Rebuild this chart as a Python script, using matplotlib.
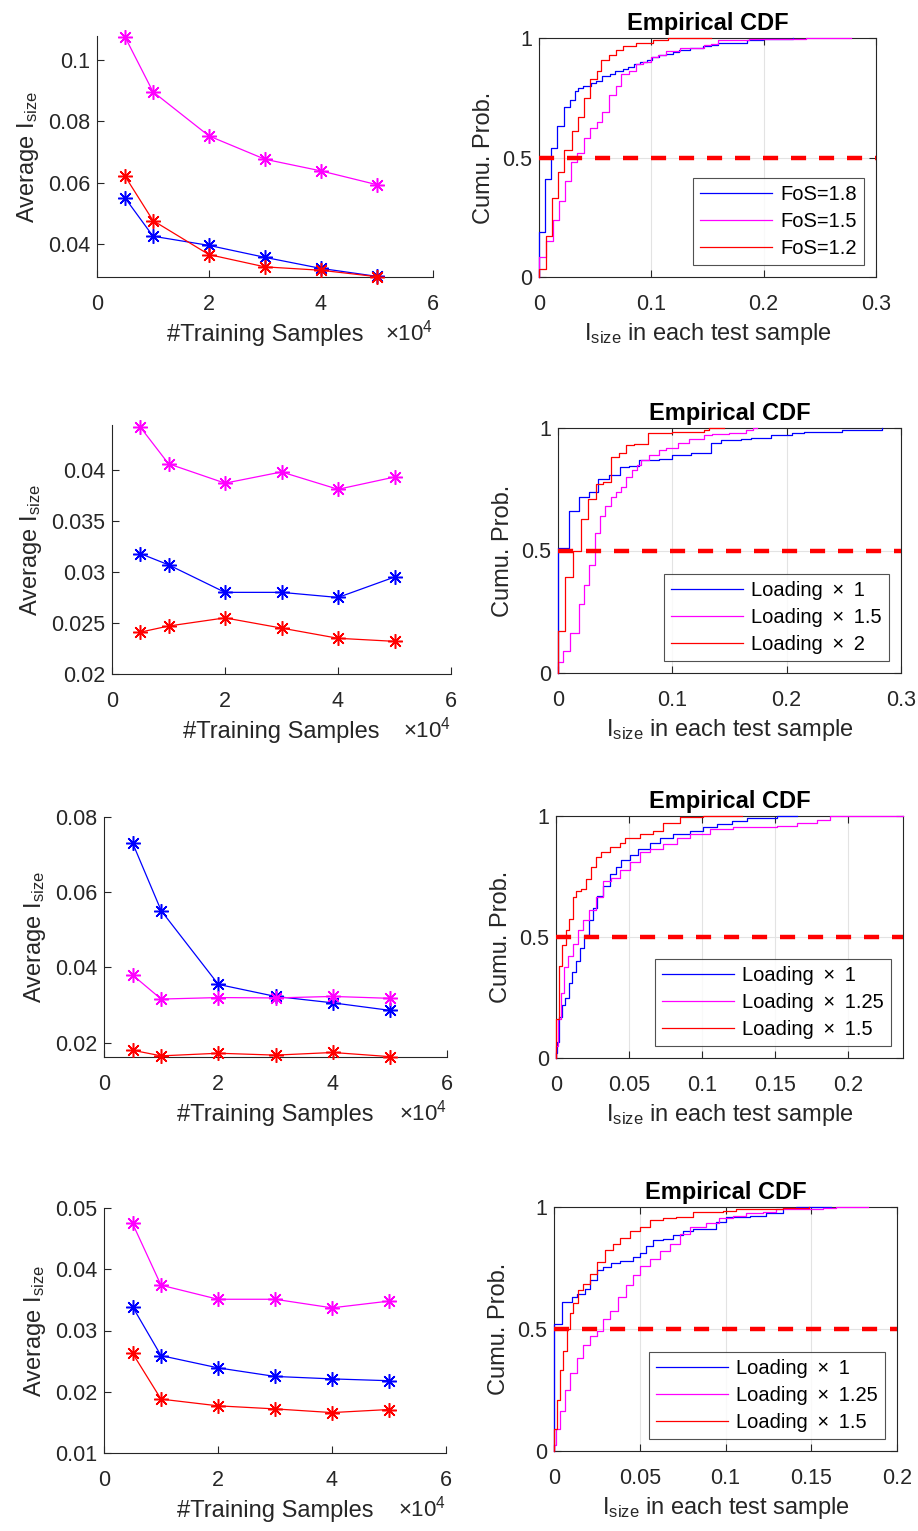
import numpy as np
import matplotlib
matplotlib.use("Agg")
import matplotlib.pyplot as plt

plt.rcParams['font.family'] = ['Liberation Sans', 'DejaVu Sans']
plt.rcParams['mathtext.fontset'] = 'custom'
plt.rcParams['mathtext.rm'] = 'Liberation Sans'
plt.rcParams['mathtext.it'] = 'Liberation Sans:italic'

BLUE, MAG, RED = '#0000ff', '#ff00ff', '#ff0000'
DARK = '#262626'

# training samples (x 10^4)
n_train = [0.5, 1, 2, 3, 4, 5]

# average I_size, row by row
avg1_blue = [0.0550, 0.0425, 0.0395, 0.0356, 0.0320, 0.0294]
avg1_mag = [0.1075, 0.0896, 0.0752, 0.0676, 0.0638, 0.0593]
avg1_red = [0.0621, 0.0476, 0.0365, 0.0325, 0.0314, 0.0293]

avg2_blue = [0.0318, 0.0307, 0.0280, 0.0280, 0.0275, 0.0295]
avg2_mag = [0.0442, 0.0406, 0.0387, 0.0398, 0.0381, 0.0393]
avg2_red = [0.0241, 0.0247, 0.0255, 0.0245, 0.0235, 0.0232]

avg3_blue = [0.0731, 0.0551, 0.0355, 0.0323, 0.0306, 0.0286]
avg3_mag = [0.0380, 0.0316, 0.0320, 0.0319, 0.0323, 0.0318]
avg3_red = [0.0180, 0.0165, 0.0172, 0.0167, 0.0174, 0.0163]

avg4_blue = [0.0339, 0.0259, 0.0239, 0.0225, 0.0221, 0.0218]
avg4_mag = [0.0475, 0.0374, 0.0351, 0.0351, 0.0337, 0.0348]
avg4_red = [0.0263, 0.0188, 0.0177, 0.0172, 0.0166, 0.0171]

# empirical CDFs: jump positions (x) and levels after jump (p); last x is end of line
cdf1_fos18_x = [0, 0.005, 0.011, 0.016, 0.022, 0.028, 0.032, 0.035, 0.039, 0.046, 0.051, 0.056, 0.063, 0.068,
                0.075, 0.079, 0.085, 0.090, 0.096, 0.101, 0.107, 0.113, 0.119, 0.125, 0.134, 0.146, 0.153, 0.159,
                0.185, 0.199, 0.226]
cdf1_fos18_p = [0.19, 0.41, 0.54, 0.63, 0.71, 0.74, 0.78, 0.79, 0.80, 0.81, 0.82, 0.84, 0.85, 0.86, 0.87, 0.88,
                0.89, 0.90, 0.91, 0.92, 0.93, 0.935, 0.94, 0.95, 0.96, 0.965, 0.97, 0.98, 0.99, 0.995, 1.0]
cdf1_fos15_x = [0, 0.0062, 0.0121, 0.018, 0.0231, 0.0281, 0.034, 0.040, 0.0453, 0.0512, 0.0565, 0.0624, 0.0683,
                0.0734, 0.0802, 0.0861, 0.0926, 0.100, 0.1059, 0.1133, 0.1251, 0.1473, 0.1533, 0.1592, 0.1754,
                0.1873, 0.2376, 0.2775]
cdf1_fos15_p = [0.083, 0.15, 0.24, 0.32, 0.40, 0.48, 0.52, 0.58, 0.625, 0.65, 0.69, 0.76, 0.80, 0.85, 0.86, 0.89,
                0.90, 0.92, 0.93, 0.945, 0.96, 0.97, 0.975, 0.99, 0.993, 0.996, 1.0, 1.0]
cdf1_fos12_x = [0, 0.0062, 0.0112, 0.0172, 0.0225, 0.029, 0.035, 0.040, 0.0453, 0.0512, 0.0556, 0.0624, 0.0683,
                0.0749, 0.0861, 0.1015, 0.1148, 0.153]
cdf1_fos12_p = [0.035, 0.17, 0.33, 0.44, 0.53, 0.61, 0.67, 0.75, 0.83, 0.86, 0.91, 0.93, 0.95, 0.965, 0.98, 0.99,
                1.0, 1.0]

cdf2_l1_x = [0, 0.0096, 0.0184, 0.0271, 0.0353, 0.0446, 0.0539, 0.0621, 0.0708, 0.0883, 0.100, 0.116, 0.1335,
             0.1423, 0.1598, 0.1685, 0.186, 0.205, 0.2152, 0.2487, 0.2837]
cdf2_l1_p = [0.51, 0.66, 0.72, 0.74, 0.79, 0.81, 0.84, 0.845, 0.87, 0.875, 0.89, 0.90, 0.94, 0.95, 0.955, 0.96,
             0.97, 0.98, 0.985, 0.99, 1.0]
cdf2_l15_x = [0, 0.0044, 0.0102, 0.0184, 0.0227, 0.0271, 0.0321, 0.0364, 0.0411, 0.0461, 0.0504, 0.0548, 0.0592,
              0.0644, 0.0694, 0.0723, 0.0796, 0.0883, 0.0942, 0.1052, 0.1146, 0.1277, 0.135, 0.1496, 0.1641,
              0.1706, 0.1743]
cdf2_l15_p = [0.045, 0.09, 0.165, 0.28, 0.36, 0.44, 0.57, 0.64, 0.68, 0.72, 0.74, 0.76, 0.80, 0.83, 0.85, 0.87,
              0.89, 0.91, 0.92, 0.94, 0.955, 0.97, 0.975, 0.98, 0.99, 1.0, 1.0]
cdf2_l2_x = [0, 0.0061, 0.0131, 0.0198, 0.0265, 0.0329, 0.0394, 0.0461, 0.0534, 0.0598, 0.0665, 0.079, 0.100,
             0.1277, 0.132, 0.1452]
cdf2_l2_p = [0.17, 0.39, 0.50, 0.63, 0.71, 0.77, 0.78, 0.88, 0.90, 0.93, 0.935, 0.98, 0.985, 0.99, 1.0, 1.0]

cdf3_l1_x = [0, 0.0005, 0.0023, 0.0041, 0.0064, 0.0087, 0.011, 0.0138, 0.0165, 0.0195, 0.0225, 0.0252, 0.028,
             0.0321, 0.0367, 0.0413, 0.0447, 0.0505, 0.0562, 0.0642, 0.0711, 0.0803, 0.0917, 0.1009, 0.1101,
             0.1204, 0.1307, 0.1514, 0.1651]
cdf3_l1_p = [0.02, 0.065, 0.17, 0.22, 0.25, 0.31, 0.355, 0.40, 0.455, 0.51, 0.57, 0.62, 0.67, 0.71, 0.76, 0.79,
             0.82, 0.84, 0.865, 0.89, 0.91, 0.925, 0.94, 0.955, 0.965, 0.98, 0.99, 1.0, 1.0]
cdf3_l125_x = [0, 0.0011, 0.0034, 0.0057, 0.008, 0.0115, 0.0149, 0.0183, 0.0229, 0.0275, 0.0321, 0.0378, 0.0436,
               0.0505, 0.0573, 0.0642, 0.0734, 0.0826, 0.0917, 0.1055, 0.1216, 0.1514, 0.1651, 0.1789, 0.1881,
               0.2378]
cdf3_l125_p = [0.05, 0.16, 0.27, 0.375, 0.42, 0.47, 0.53, 0.57, 0.61, 0.665, 0.73, 0.745, 0.775, 0.81, 0.85,
               0.865, 0.885, 0.91, 0.925, 0.945, 0.955, 0.96, 0.97, 0.985, 1.0, 1.0]
cdf3_l15_x = [0, 0.0023, 0.0041, 0.0069, 0.0092, 0.0115, 0.0138, 0.0172, 0.0206, 0.0241, 0.0275, 0.031, 0.0367,
              0.0436, 0.047, 0.0573, 0.0665, 0.0734, 0.0849, 0.1009, 0.1273]
cdf3_l15_p = [0.16, 0.38, 0.465, 0.53, 0.575, 0.665, 0.69, 0.70, 0.74, 0.79, 0.83, 0.85, 0.87, 0.89, 0.91, 0.925,
              0.94, 0.97, 0.995, 1.0, 1.0]

cdf4_l1_x = [0, 0.0045, 0.0103, 0.0132, 0.018, 0.0209, 0.0248, 0.0287, 0.0335, 0.0384, 0.0461, 0.050, 0.0539,
             0.0578, 0.0636, 0.0694, 0.0752, 0.081, 0.0946, 0.1004, 0.114, 0.1236, 0.1333, 0.1411, 0.1614]
cdf4_l1_p = [0.52, 0.61, 0.63, 0.645, 0.665, 0.70, 0.74, 0.755, 0.77, 0.78, 0.795, 0.81, 0.84, 0.865, 0.87, 0.885,
             0.90, 0.91, 0.94, 0.96, 0.965, 0.975, 0.995, 1.0, 1.0]
cdf4_l125_x = [0, 0.0012, 0.0035, 0.0064, 0.0093, 0.0132, 0.0171, 0.0209, 0.0248, 0.0287, 0.0326, 0.0374, 0.0422,
               0.0461, 0.050, 0.0558, 0.0616, 0.0674, 0.0733, 0.0791, 0.0888, 0.0965, 0.1043, 0.112, 0.1217,
               0.1295, 0.1566, 0.1643, 0.1833]
cdf4_l125_p = [0.025, 0.09, 0.165, 0.25, 0.32, 0.38, 0.435, 0.47, 0.49, 0.54, 0.575, 0.63, 0.68, 0.72, 0.76,
               0.785, 0.82, 0.85, 0.89, 0.92, 0.935, 0.955, 0.965, 0.975, 0.98, 0.99, 0.995, 1.0, 1.0]
cdf4_l15_x = [0, 0.0019, 0.0035, 0.0054, 0.0074, 0.0093, 0.0112, 0.0141, 0.0171, 0.0209, 0.0248, 0.0297, 0.0345,
              0.0384, 0.0442, 0.050, 0.0558, 0.0636, 0.0713, 0.081, 0.0984, 0.1062, 0.1333, 0.1488]
cdf4_l15_p = [0.09, 0.21, 0.33, 0.41, 0.50, 0.565, 0.605, 0.66, 0.685, 0.725, 0.775, 0.825, 0.85, 0.875, 0.90,
              0.92, 0.945, 0.955, 0.96, 0.98, 0.985, 0.99, 0.995, 1.0]

legend1 = ['FoS=1.8', 'FoS=1.5', 'FoS=1.2']
legend2 = ['Loading \u2009\u00d7\u2009 1', 'Loading \u2009\u00d7\u2009 1.5', 'Loading \u2009\u00d7\u2009 2']
legend3 = ['Loading \u2009\u00d7\u2009 1', 'Loading \u2009\u00d7\u2009 1.25', 'Loading \u2009\u00d7\u2009 1.5']

W, H = 918, 1531
fig = plt.figure(figsize=(W / 100, H / 100), dpi=100)


def box(l, r, t, b):
    return [l / W, 1 - b / H, (r - l) / W, (b - t) / H]


TICK_FS = 15.5
LAB_FS = 17
LEG_FS = 14.5


def style_ticks(ax):
    ax.tick_params(direction='in', length=5, width=0.8, colors=DARK, labelsize=TICK_FS)
    ax.tick_params(axis='x', pad=12.5)
    ax.tick_params(axis='y', pad=5)


def avg_panel(pos, series, ylim, yticks, ylabels):
    ax = fig.add_axes(box(*pos))
    for y, c in zip(series, [BLUE, MAG, RED]):
        ax.plot(n_train, y, color=c, lw=0.9, marker=(8, 2, 0), ms=10.5, mew=1.1, clip_on=False, zorder=3)
    ax.set_xlim(0, 6)
    ax.set_ylim(*ylim)
    ax.set_xticks([0, 2, 4, 6])
    ax.set_yticks(yticks)
    ax.set_yticklabels(ylabels)
    for s in ['top', 'right']:
        ax.spines[s].set_visible(False)
    for s in ['left', 'bottom']:
        ax.spines[s].set_color(DARK)
        ax.spines[s].set_linewidth(0.8)
    style_ticks(ax)
    ax.set_xlabel('#Training Samples', fontsize=LAB_FS, color=DARK, labelpad=6)
    ax.set_ylabel(r'Average I$_{\mathregular{size}}$', fontsize=LAB_FS, color=DARK, labelpad=5)
    ax.annotate('\u00d710$^{\\mathregular{4}}$', xy=(1, 0), xycoords='axes fraction', xytext=(0, -46),
                textcoords='offset points', ha='right', va='baseline', fontsize=16, color=DARK)
    return ax


def cdf_panel(pos, series, labels, xlim, xticks, xlabels):
    ax = fig.add_axes(box(*pos))
    lines = []
    for (x, p), c in zip(series, [BLUE, MAG, RED]):
        xs = [x[0]] + list(x)
        ps = [0] + list(p)
        ln, = ax.step(xs, ps, where='post', color=c, lw=0.9, zorder=3, clip_on=False)
        lines.append(ln)
    ax.plot(xlim, [0.5, 0.5], color=RED, lw=3.2, dashes=(3.4, 2.9), zorder=3)
    ax.set_xlim(*xlim)
    ax.set_ylim(0, 1)
    ax.set_xticks(xticks)
    ax.set_xticklabels(xlabels)
    ax.set_yticks([0, 0.5, 1])
    ax.set_yticklabels(['0', '0.5', '1'])
    ax.grid(True, color='#e3e3e3', lw=0.8)
    ax.set_axisbelow(True)
    for s in ax.spines.values():
        s.set_color(DARK)
        s.set_linewidth(0.8)
    style_ticks(ax)
    ax.tick_params(top=True, right=True)
    ax.set_title('Empirical CDF', fontsize=LAB_FS, fontweight='bold', pad=6)
    ax.set_xlabel(r'I$_{\mathregular{size}}$ in each test sample', fontsize=LAB_FS, color=DARK, labelpad=4)
    ax.set_ylabel('Cumu. Prob.', fontsize=LAB_FS, color=DARK, labelpad=5)
    leg = ax.legend(lines, labels, loc='lower right', fontsize=LEG_FS, frameon=True, fancybox=False,
                    handlelength=3.6, handletextpad=0.4, labelspacing=0.4, borderpad=0.35,
                    borderaxespad=0.6)
    leg.get_frame().set_edgecolor(DARK)
    leg.get_frame().set_linewidth(0.8)
    leg.set_zorder(5)
    return ax


avg_panel((97, 433, 36, 277), [avg1_blue, avg1_mag, avg1_red], (0.0292, 0.1078),
          [0.04, 0.06, 0.08, 0.1], ['0.04', '0.06', '0.08', '0.1'])
avg_panel((112, 451, 425, 674), [avg2_blue, avg2_mag, avg2_red], (0.02, 0.0444),
          [0.02, 0.025, 0.03, 0.035, 0.04], ['0.02', '0.025', '0.03', '0.035', '0.04'])
avg_panel((104, 447, 817, 1057), [avg3_blue, avg3_mag, avg3_red], (0.0162, 0.08),
          [0.02, 0.04, 0.06, 0.08], ['0.02', '0.04', '0.06', '0.08'])
avg_panel((104, 446, 1208, 1453), [avg4_blue, avg4_mag, avg4_red], (0.01, 0.05),
          [0.01, 0.02, 0.03, 0.04, 0.05], ['0.01', '0.02', '0.03', '0.04', '0.05'])

cdf_panel((539, 876, 38, 277),
          [(cdf1_fos18_x, cdf1_fos18_p), (cdf1_fos15_x, cdf1_fos15_p), (cdf1_fos12_x, cdf1_fos12_p)],
          legend1, (0, 0.3), [0, 0.1, 0.2, 0.3], ['0', '0.1', '0.2', '0.3'])
cdf_panel((558, 901, 428, 673),
          [(cdf2_l1_x, cdf2_l1_p), (cdf2_l15_x, cdf2_l15_p), (cdf2_l2_x, cdf2_l2_p)],
          legend2, (0, 0.3), [0, 0.1, 0.2, 0.3], ['0', '0.1', '0.2', '0.3'])
cdf_panel((556, 903, 816, 1058),
          [(cdf3_l1_x, cdf3_l1_p), (cdf3_l125_x, cdf3_l125_p), (cdf3_l15_x, cdf3_l15_p)],
          legend3, (0, 0.2378), [0, 0.05, 0.1, 0.15, 0.2], ['0', '0.05', '0.1', '0.15', '0.2'])
cdf_panel((554, 897, 1207, 1451),
          [(cdf4_l1_x, cdf4_l1_p), (cdf4_l125_x, cdf4_l125_p), (cdf4_l15_x, cdf4_l15_p)],
          legend3, (0, 0.2), [0, 0.05, 0.1, 0.15, 0.2], ['0', '0.05', '0.1', '0.15', '0.2'])

fig.savefig('out.png', dpi=100, facecolor='white')
